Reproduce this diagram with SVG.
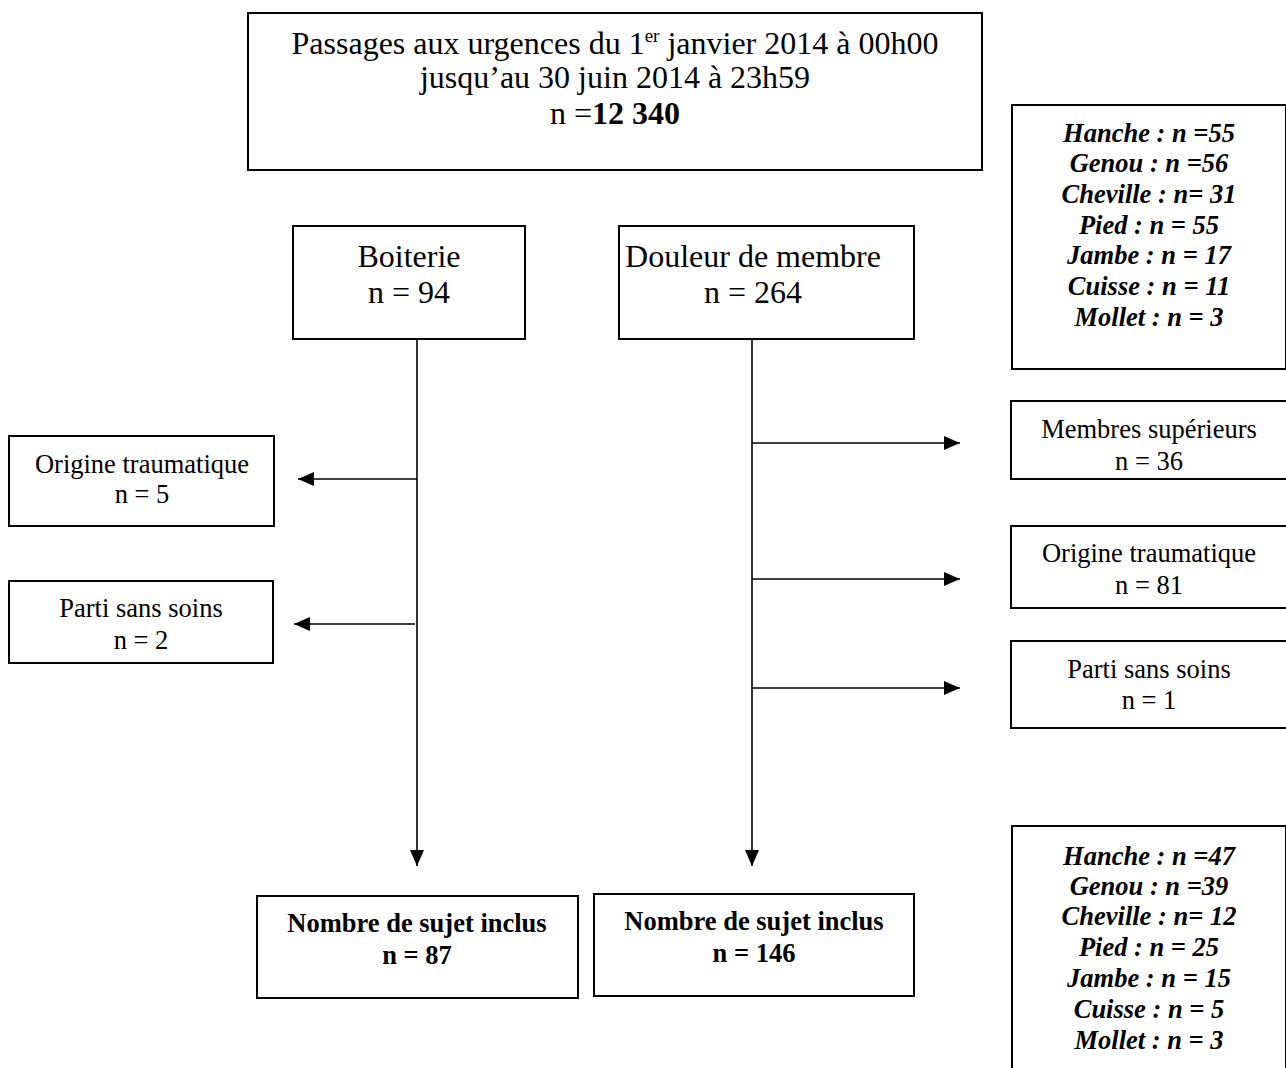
<svg xmlns="http://www.w3.org/2000/svg" width="1286" height="1068" viewBox="0 0 1286 1068">
<style>
.box{fill:#fff;stroke:#000;stroke-width:2}
.t{font-family:"Liberation Serif","Times New Roman",serif;fill:#000;text-anchor:middle}
.big{font-size:32px}
.mid{font-size:26.5px}
.bi{font-size:26.5px;font-weight:bold;font-style:italic}
.b{font-size:26.5px;font-weight:bold}
.ln{stroke:#000;stroke-width:1.6;fill:none}
</style>
<defs>
<marker id="ah" markerWidth="16" markerHeight="14" refX="16" refY="7" orient="auto" markerUnits="userSpaceOnUse">
<path d="M0,0 L16,7 L0,14 Z" fill="#000"/>
</marker>
</defs>
<rect width="1286" height="1068" fill="#fff"/>
<g id="connectors">
<line class="ln" x1="417" y1="339" x2="417" y2="866" marker-end="url(#ah)"/>
<line class="ln" x1="752" y1="339" x2="752" y2="866" marker-end="url(#ah)"/>
<line class="ln" x1="417" y1="479" x2="298" y2="479" marker-end="url(#ah)"/>
<line class="ln" x1="415" y1="624" x2="294" y2="624" marker-end="url(#ah)"/>
<line class="ln" x1="752" y1="443" x2="960" y2="443" marker-end="url(#ah)"/>
<line class="ln" x1="752" y1="579" x2="960" y2="579" marker-end="url(#ah)"/>
<line class="ln" x1="752" y1="688" x2="960" y2="688" marker-end="url(#ah)"/>
</g>
<g id="top">
<rect class="box" x="248" y="13" width="734" height="157"/>
<text class="t big" x="615" y="54">Passages aux urgences du 1<tspan font-size="19" dy="-12">er</tspan><tspan dy="12"> janvier 2014 à 00h00</tspan></text>
<text class="t big" x="615" y="88">jusqu’au 30 juin 2014 à 23h59</text>
<text class="t big" x="615" y="124">n =<tspan font-weight="bold">12 340</tspan></text>
</g>
<g id="details-top">
<rect class="box" x="1012" y="105" width="274" height="264"/>
<text class="t bi" x="1149" y="142">Hanche : n =55</text>
<text class="t bi" x="1149" y="172">Genou : n =56</text>
<text class="t bi" x="1149" y="203">Cheville : n= 31</text>
<text class="t bi" x="1149" y="234">Pied : n = 55</text>
<text class="t bi" x="1149" y="264">Jambe : n = 17</text>
<text class="t bi" x="1149" y="295">Cuisse : n = 11</text>
<text class="t bi" x="1149" y="326">Mollet : n = 3</text>
</g>
<g id="boiterie">
<rect class="box" x="293" y="226" width="232" height="113"/>
<text class="t big" x="409" y="267">Boiterie</text>
<text class="t big" x="409" y="303">n = 94</text>
</g>
<g id="douleur">
<rect class="box" x="619" y="226" width="295" height="113"/>
<text class="t big" x="753" y="267">Douleur de membre</text>
<text class="t big" x="753" y="303">n = 264</text>
</g>
<g id="origine-left">
<rect class="box" x="9" y="436" width="265" height="90"/>
<text class="t mid" x="142" y="473">Origine traumatique</text>
<text class="t mid" x="142" y="503">n = 5</text>
</g>
<g id="parti-left">
<rect class="box" x="9" y="581" width="264" height="82"/>
<text class="t mid" x="141" y="617">Parti sans soins</text>
<text class="t mid" x="141" y="649">n = 2</text>
</g>
<g id="membres-sup">
<rect class="box" x="1011" y="401" width="276" height="78"/>
<text class="t mid" x="1149" y="438">Membres supérieurs</text>
<text class="t mid" x="1149" y="470">n = 36</text>
</g>
<g id="origine-right">
<rect class="box" x="1011" y="526" width="276" height="82"/>
<text class="t mid" x="1149" y="562">Origine traumatique</text>
<text class="t mid" x="1149" y="594">n = 81</text>
</g>
<g id="parti-right">
<rect class="box" x="1011" y="641" width="276" height="87"/>
<text class="t mid" x="1149" y="678">Parti sans soins</text>
<text class="t mid" x="1149" y="709">n = 1</text>
</g>
<g id="inclus-left">
<rect class="box" x="257" y="896" width="321" height="102"/>
<text class="t b" x="417" y="932">Nombre de sujet inclus</text>
<text class="t b" x="417" y="964">n = 87</text>
</g>
<g id="inclus-right">
<rect class="box" x="594" y="894" width="320" height="102"/>
<text class="t b" x="754" y="930">Nombre de sujet inclus</text>
<text class="t b" x="754" y="962">n = 146</text>
</g>
<g id="details-bottom">
<rect class="box" x="1012" y="826" width="274" height="250"/>
<text class="t bi" x="1149" y="865">Hanche : n =47</text>
<text class="t bi" x="1149" y="895">Genou : n =39</text>
<text class="t bi" x="1149" y="925">Cheville : n= 12</text>
<text class="t bi" x="1149" y="956">Pied : n = 25</text>
<text class="t bi" x="1149" y="987">Jambe : n = 15</text>
<text class="t bi" x="1149" y="1018">Cuisse : n = 5</text>
<text class="t bi" x="1149" y="1049">Mollet : n = 3</text>
</g>
</svg>
